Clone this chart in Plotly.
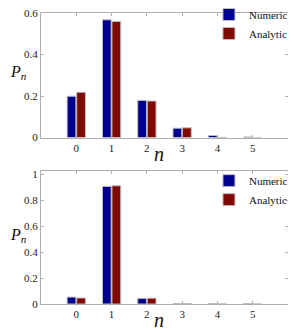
import plotly.graph_objects as go

n_values = [0, 1, 2, 3, 4, 5]
top_numeric = [0.199, 0.567, 0.179, 0.045, 0.010, 0.003]
top_analytic = [0.218, 0.559, 0.176, 0.047, 0.001, 0.0002]
bottom_numeric = [0.053, 0.905, 0.043, 0.004, 0.002, 0.001]
bottom_analytic = [0.046, 0.910, 0.045, 0.004, 0.0005, 0.0001]
top_yticks = [0, 0.2, 0.4, 0.6]
top_ylabels = ["0", "0.2", "0.4", "0.6"]
bottom_yticks = [0, 0.2, 0.4, 0.6, 0.8, 1]
bottom_ylabels = ["0", "0.2", "0.4", "0.6", "0.8", "1"]

BLUE = "rgb(0,0,143)"
RED = "rgb(128,8,0)"
EDGE = "rgb(190,190,190)"
FONT = "Liberation Serif, Times New Roman, serif"

fig = go.Figure()
fig.add_trace(go.Bar(x=n_values, y=top_numeric, name="Numeric", marker=dict(color=BLUE, line=dict(color=EDGE, width=1)),
                     xaxis="x", yaxis="y", legend="legend"))
fig.add_trace(go.Bar(x=n_values, y=top_analytic, name="Analytic", marker=dict(color=RED, line=dict(color=EDGE, width=1)),
                     xaxis="x", yaxis="y", legend="legend"))
fig.add_trace(go.Bar(x=n_values, y=bottom_numeric, name="Numeric", marker=dict(color=BLUE, line=dict(color=EDGE, width=1)),
                     xaxis="x2", yaxis="y2", legend="legend2"))
fig.add_trace(go.Bar(x=n_values, y=bottom_analytic, name="Analytic", marker=dict(color=RED, line=dict(color=EDGE, width=1)),
                     xaxis="x2", yaxis="y2", legend="legend2"))

axis_common = dict(showline=True, linecolor="rgb(175,175,175)", linewidth=1, mirror="ticks",
                   ticks="inside", ticklen=3, tickcolor="rgb(175,175,175)", showgrid=False, zeroline=False,
                   ticklabeloverflow="allow",
                   tickfont=dict(family=FONT, size=11, color="#222"))

top_dom = [0.5719, 1.0]
bot_dom = [0.0, 0.4576]

legend_common = dict(xanchor="left", yanchor="top", bgcolor="rgba(0,0,0,0)",
                     font=dict(family=FONT, size=11, color="#111"), itemwidth=30, tracegroupgap=0)

fig.update_layout(
    width=288, height=325,
    margin=dict(l=33, r=8, t=5, b=28.7, autoexpand=False),
    paper_bgcolor="white", plot_bgcolor="white",
    barmode="group", bargap=0.46, bargroupgap=0.08,
    xaxis=dict(domain=[0, 1], anchor="y", range=[-1, 6], tickvals=n_values, **axis_common),
    yaxis=dict(domain=top_dom, anchor="x", range=[0, 0.6], tickvals=top_yticks, ticktext=top_ylabels, **axis_common),
    xaxis2=dict(domain=[0, 1], anchor="y2", range=[-1, 6], tickvals=n_values, **axis_common),
    yaxis2=dict(domain=bot_dom, anchor="x2", range=[0, 1.025], tickvals=bottom_yticks, ticktext=bottom_ylabels, **axis_common),
    legend=dict(x=0.68, y=1.0446, **legend_common),
    legend2=dict(x=0.68, y=0.4737, **legend_common),
    showlegend=True,
)

title_font = dict(family=FONT, size=16, color="#111")
annotations = [
    dict(text="<i>P<sub>n</sub></i>", xref="paper", yref="paper", x=-0.1336, y=0.794, xanchor="left", yanchor="middle",
         showarrow=False, font=title_font),
    dict(text="<i>P<sub>n</sub></i>", xref="paper", yref="paper", x=-0.1336, y=0.2345, xanchor="left", yanchor="middle",
         showarrow=False, font=title_font),
    dict(text="<i>n</i>", xref="x", yref="paper", x=2.35, y=0.5719, xanchor="center", yanchor="top", yshift=-3,
         showarrow=False, font=dict(family=FONT, size=20, color="#111")),
    dict(text="<i>n</i>", xref="x2", yref="paper", x=2.35, y=0.0, xanchor="center", yanchor="top", yshift=-3,
         showarrow=False, font=dict(family=FONT, size=20, color="#111")),
]
fig.update_layout(annotations=annotations)

fig.write_html("out.html")
